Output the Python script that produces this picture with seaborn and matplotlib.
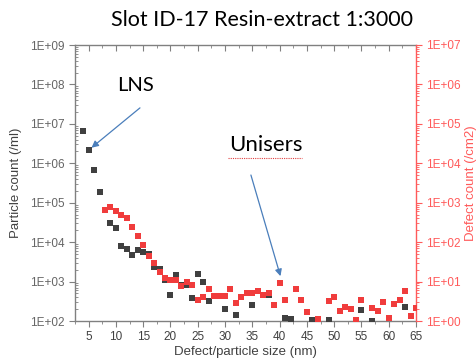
import matplotlib
matplotlib.use("Agg")
import matplotlib.pyplot as plt
import matplotlib.ticker as mticker
from matplotlib.lines import Line2D
import numpy as np
import pandas as pd
import seaborn as sns

# particle count (/ml), left axis
particle_size = [4, 5, 6, 7, 8, 9, 10, 11, 12, 13, 14, 15, 16, 17, 18, 19, 20, 21, 22, 23,
                 24, 25, 26, 27, 30, 32, 35, 38, 41, 42, 46, 49, 55, 57, 63]
particle_count = [6.5e6, 2.2e6, 6.6e5, 1.9e5, 6.6e4, 3.1e4, 2.3e4, 8.0e3, 6.8e3, 4.7e3,
                  6.3e3, 5.6e3, 5.0e3, 2.3e3, 2.1e3, 1.1e3, 4.6e2, 1.5e3, 8.1e2, 8.1e2,
                  3.9e2, 1.6e3, 1.0e3, 3.2e2, 2.0e2, 1.4e2, 2.6e2, 4.7e2, 1.17e2, 1.12e2,
                  1.07e2, 1.07e2, 1.86e2, 1.0e2, 2.3e2]

# defect count (/cm2), right axis
defect_size = [8, 9, 10, 11, 12, 13, 14, 15, 16, 17, 18, 19, 20, 21, 22, 23, 24, 25, 26, 27,
               28, 29, 30, 31, 32, 33, 34, 35, 36, 37, 38, 39, 40, 41, 43, 44, 45, 47, 49, 50,
               51, 52, 53, 54, 55, 57, 58, 59, 60, 61, 62, 63, 64, 65]
defect_count = [660, 794, 631, 490, 407, 240, 145, 83, 45, 29, 18, 12.6, 11.2, 11.2, 7.6, 9.5,
                8.1, 3.5, 4.0, 6.6, 4.2, 4.2, 4.4, 6.5, 2.8, 4.1, 5.2, 5.2, 5.8, 4.5, 5.0,
                2.5, 9.3, 3.4, 6.5, 3.4, 1.7, 1.1, 3.2, 4.0, 1.8, 2.2, 2.0, 1.05, 3.5, 2.1,
                1.8, 3.1, 1.2, 2.7, 3.5, 5.9, 1.35, 2.1]

df_particles = pd.DataFrame({"size": particle_size, "count": particle_count})
df_defects = pd.DataFrame({"size": defect_size, "count": defect_count})

sns.set_style("white")
plt.rcParams["font.family"] = ["Liberation Sans", "DejaVu Sans"]

dark = "#404040"
red = "#f03c3c"
red_axis = "#ff5a5a"
gray = "#808080"
arrow_blue = "#4a7ebb"

fig = plt.figure(figsize=(4.77, 3.64), dpi=100)
ax = fig.add_axes([75 / 477, 1 - 321 / 364, 341 / 477, 276 / 364])
ax2 = ax.twinx()

sns.scatterplot(data=df_particles, x="size", y="count", ax=ax, marker="s", s=25,
                color=dark, linewidth=0, zorder=3)
sns.scatterplot(data=df_defects, x="size", y="count", ax=ax2, marker="s", s=25,
                color=red, linewidth=0, zorder=3)
ax2.set_xlabel("")

ax.set_yscale("log")
ax2.set_yscale("log")
ax.set_ylim(1e2, 1e9)
ax2.set_ylim(1e0, 1e7)
ax.set_xlim(2.5, 65)

fmt = mticker.FuncFormatter(lambda v, p: "1E+%02d" % int(round(np.log10(v))))
for a in (ax, ax2):
    a.yaxis.set_major_locator(mticker.LogLocator(base=10, numticks=12))
    a.yaxis.set_minor_locator(mticker.LogLocator(base=10, subs=np.arange(2, 10), numticks=12))
    a.yaxis.set_major_formatter(fmt)
    a.yaxis.set_minor_formatter(mticker.NullFormatter())

ax.xaxis.set_major_locator(mticker.MultipleLocator(5))
ax.xaxis.set_minor_locator(mticker.MultipleLocator(2.5))

for s in ("left", "bottom", "top"):
    ax.spines[s].set_color(gray)
    ax.spines[s].set_linewidth(1.0)
ax.spines["right"].set_visible(False)
for s in ("left", "bottom", "top"):
    ax2.spines[s].set_visible(False)
ax2.spines["right"].set_color(red_axis)
ax2.spines["right"].set_linewidth(1.0)

ax.tick_params(axis="x", which="major", direction="out", length=4, width=0.8, color=gray,
               labelsize=8.5, labelcolor=dark, top=True, bottom=True)
ax.tick_params(axis="x", which="minor", direction="out", length=2, width=0.6, color=gray,
               top=True, bottom=True)
ax.tick_params(axis="y", which="major", direction="out", length=4, width=0.8, color=gray,
               labelsize=8.5, labelcolor="#666666", left=True, right=False)
ax.tick_params(axis="y", which="minor", direction="in", length=2, width=0.6, color=gray,
               left=True, right=False)
ax2.tick_params(axis="y", which="major", direction="out", length=4, width=0.8, color=red_axis,
                labelsize=8.5, labelcolor=red_axis)
ax2.tick_params(axis="y", which="minor", direction="out", length=2, width=0.6, color=red_axis)

# top ticks point inward
for t in ax.xaxis.get_major_ticks() + ax.xaxis.get_minor_ticks():
    t.tick2line.set_marker(matplotlib.lines.TICKDOWN)

ax.set_xlabel("Defect/particle size (nm)", fontsize=9.5, color=dark, labelpad=2)
ax.set_ylabel("Particle count (/ml)", fontsize=9.5, color=dark, labelpad=6)
ax2.set_ylabel("Defect count (/cm2)", fontsize=9.5, color=red_axis, labelpad=3)

fig.text(0.550, 0.945, "Slot ID-17 Resin-extract 1:3000", ha="center", va="center",
         fontsize=15.5, family=["Lato", "DejaVu Sans"], color="black")

# annotations
ax.text(13.55, 10 ** 7.98, "LNS", ha="center", va="center", fontsize=14.5,
        family=["Lato", "DejaVu Sans"], color="black", zorder=5)
ax.annotate("", xy=(5.13, 10 ** 6.35), xytext=(14.8, 10 ** 7.45),
            arrowprops=dict(arrowstyle="-|>", color=arrow_blue, lw=0.9, mutation_scale=10),
            zorder=5)
ax.text(37.4, 10 ** 6.46, "Unisers", ha="center", va="center", fontsize=16,
        family=["Lato", "DejaVu Sans"], color="black", zorder=5)
ax.annotate("", xy=(40.3, 10 ** 3.07), xytext=(34.6, 10 ** 5.77),
            arrowprops=dict(arrowstyle="-|>", color=arrow_blue, lw=0.9, mutation_scale=10),
            zorder=5)
# spell-check squiggle under "Unisers"
fig.add_artist(Line2D([228 / 477, 302 / 477], [1 - 158 / 364, 1 - 158 / 364],
                      color="#e04040", lw=0.8, linestyle=(0, (1, 1))))

fig.savefig("out.png", dpi=100)
